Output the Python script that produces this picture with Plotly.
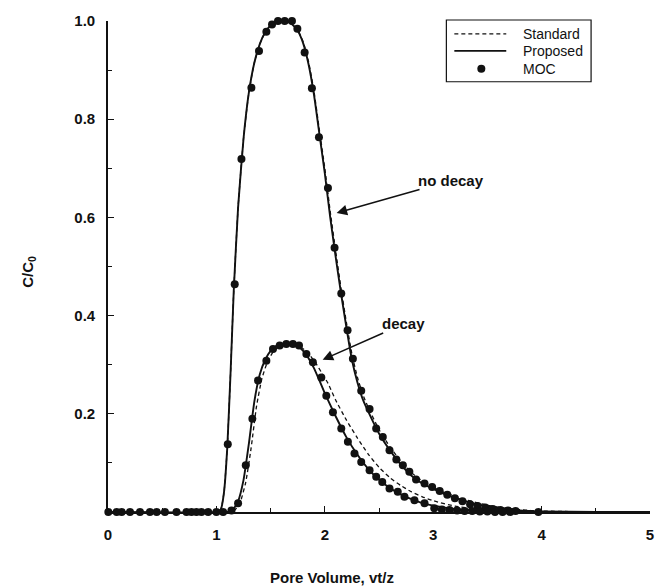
import plotly.graph_objects as go

# ---- Analytical curves (C/C0 vs pore volume) ----
# no decay, proposed solution
nd_prop_x = [0, 1.0, 1.04, 1.07, 1.1, 1.13, 1.16, 1.2, 1.25, 1.3, 1.35, 1.4, 1.45, 1.5, 1.55,
             1.6, 1.65, 1.7, 1.75, 1.8, 1.85, 1.9, 1.95, 2.0, 2.05, 2.1, 2.15, 2.2, 2.25, 2.3,
             2.35, 2.4, 2.5, 2.6, 2.7, 2.8, 2.9, 3.0, 3.1, 3.2, 3.3, 3.4, 3.5, 3.6, 3.7, 3.8,
             3.9, 4.0, 4.5, 5.0]
nd_prop_y = [0, 0, 0.005, 0.04, 0.13, 0.28, 0.45, 0.62, 0.76, 0.855, 0.915, 0.953, 0.977, 0.991, 0.998,
             1.0, 0.999, 0.993, 0.98, 0.955, 0.912, 0.85, 0.77, 0.69, 0.6, 0.52, 0.445, 0.375, 0.31, 0.265,
             0.23, 0.205, 0.16, 0.126, 0.097, 0.074, 0.058, 0.047, 0.037, 0.029, 0.022, 0.016, 0.012, 0.008, 0.005, 0.003,
             0.002, 0.001, 0, 0]

# no decay, standard solution
nd_std_x = [0, 1.0, 1.04, 1.07, 1.1, 1.13, 1.16, 1.2, 1.25, 1.3, 1.35, 1.4, 1.45, 1.5, 1.55,
            1.6, 1.65, 1.7, 1.75, 1.8, 1.85, 1.9, 1.95, 2.0, 2.05, 2.1, 2.15, 2.2, 2.25, 2.3,
            2.35, 2.4, 2.5, 2.6, 2.7, 2.8, 2.9, 3.0, 3.1, 3.2, 3.3, 3.4, 3.5, 3.6, 3.7, 3.8,
            3.9, 4.0, 4.5, 5.0]
nd_std_y = [0, 0, 0.005, 0.04, 0.13, 0.28, 0.45, 0.62, 0.76, 0.855, 0.915, 0.953, 0.977, 0.991, 0.998,
            1.0, 0.999, 0.994, 0.982, 0.958, 0.917, 0.857, 0.778, 0.7, 0.612, 0.532, 0.455, 0.385, 0.322, 0.275,
            0.24, 0.213, 0.168, 0.133, 0.104, 0.08, 0.063, 0.05, 0.04, 0.032, 0.025, 0.019, 0.014, 0.01, 0.007, 0.005,
            0.003, 0.002, 0, 0]

# decay, proposed solution
d_prop_x = [0, 1.1, 1.15, 1.2, 1.25, 1.3, 1.35, 1.4, 1.45, 1.5, 1.55, 1.6, 1.65, 1.7, 1.75, 1.8,
            1.85, 1.9, 1.95, 2.0, 2.1, 2.2, 2.3, 2.4, 2.5, 2.6, 2.7, 2.8, 2.9, 3.0, 3.2, 3.4,
            3.6, 3.8, 4.0, 5.0]
d_prop_y = [0, 0, 0.004, 0.022, 0.065, 0.14, 0.225, 0.28, 0.31, 0.328, 0.338, 0.342, 0.343, 0.342, 0.338, 0.328,
            0.313, 0.293, 0.268, 0.242, 0.195, 0.152, 0.117, 0.088, 0.066, 0.049, 0.036, 0.026, 0.018, 0.013, 0.006, 0.003,
            0.001, 0, 0, 0]

# decay, standard solution
d_std_x = [0, 1.12, 1.17, 1.22, 1.27, 1.32, 1.37, 1.42, 1.47, 1.52, 1.57, 1.62, 1.67, 1.72, 1.77, 1.82,
           1.87, 1.92, 1.97, 2.03, 2.1, 2.2, 2.3, 2.4, 2.5, 2.6, 2.7, 2.8, 2.9, 3.0, 3.2, 3.4,
           3.6, 3.8, 4.0, 5.0]
d_std_y = [0, 0, 0.004, 0.02, 0.06, 0.13, 0.215, 0.272, 0.305, 0.325, 0.336, 0.341, 0.342, 0.341, 0.337, 0.329,
           0.317, 0.302, 0.284, 0.262, 0.228, 0.187, 0.151, 0.118, 0.091, 0.07, 0.054, 0.041, 0.031, 0.023, 0.012, 0.006,
           0.003, 0.001, 0, 0]

# ---- Method of characteristics (MOC) results ----
moc_nd_x = [0.003, 0.126, 0.295, 0.449, 0.632, 0.77, 0.862, 1.0, 1.105, 1.169, 1.231, 1.323, 1.393, 1.461,
            1.513, 1.568, 1.63, 1.697, 1.747, 1.814, 1.881, 1.946, 2.029, 2.09, 2.152, 2.21, 2.259, 2.336,
            2.413, 2.474, 2.535, 2.597, 2.66, 2.72, 2.78, 2.842, 2.92, 2.99, 3.06, 3.13, 3.2, 3.27, 3.34,
            3.41, 3.48, 3.55, 3.62, 3.69, 3.76, 3.97]
moc_nd_y = [0, 0, 0, 0, 0, 0, 0, 0, 0.138, 0.464, 0.719, 0.864, 0.939, 0.978,
            0.993, 1.0, 1.0, 1.0, 0.984, 0.936, 0.863, 0.763, 0.66, 0.538, 0.445, 0.37, 0.312, 0.247,
            0.21, 0.17, 0.153, 0.126, 0.107, 0.095, 0.082, 0.066, 0.058, 0.051, 0.043, 0.035, 0.028, 0.022, 0.016,
            0.012, 0.009, 0.006, 0.004, 0.003, 0.002, 0]

moc_d_x = [0.08, 0.203, 0.387, 0.525, 0.724, 0.816, 0.924, 1.062, 1.139, 1.2, 1.271, 1.332, 1.384, 1.461,
           1.522, 1.584, 1.645, 1.706, 1.762, 1.83, 1.89, 1.968, 2.014, 2.075, 2.152, 2.213, 2.274, 2.336,
           2.413, 2.474, 2.53, 2.597, 2.673, 2.735, 2.827, 2.92, 3.01, 3.08, 3.15, 3.22, 3.29, 3.36, 3.43,
           3.5, 3.57, 3.64, 3.71]
moc_d_y = [0, 0, 0, 0, 0, 0, 0, 0, 0.003, 0.018, 0.095, 0.19, 0.268, 0.308,
           0.332, 0.339, 0.342, 0.342, 0.339, 0.322, 0.305, 0.274, 0.237, 0.203, 0.17, 0.143, 0.119, 0.102,
           0.085, 0.072, 0.061, 0.048, 0.041, 0.031, 0.024, 0.018, 0.0075, 0.005, 0.004, 0.003, 0.002, 0.002, 0.001,
           0.001, 0, 0, 0]

x_ticks = [0, 1, 2, 3, 4, 5]
y_ticks = [0.2, 0.4, 0.6, 0.8, 1.0]
legend_labels = ["Standard", "Proposed", "MOC"]

FONT = "Liberation Sans"
BLACK = "#111111"

fig = go.Figure()

dash_style = dict(color=BLACK, width=1.3, dash="4px,3px", shape="spline", smoothing=0.5)
solid_style = dict(color=BLACK, width=1.9, shape="spline", smoothing=0.5)
dot_style = dict(color=BLACK, size=8)

fig.add_trace(go.Scatter(x=nd_std_x, y=nd_std_y, mode="lines", line=dash_style, name="Standard"))
fig.add_trace(go.Scatter(x=d_std_x, y=d_std_y, mode="lines", line=dash_style, name="Standard"))
fig.add_trace(go.Scatter(x=nd_prop_x, y=nd_prop_y, mode="lines", line=solid_style, name="Proposed"))
fig.add_trace(go.Scatter(x=d_prop_x, y=d_prop_y, mode="lines", line=solid_style, name="Proposed"))
fig.add_trace(go.Scatter(x=moc_nd_x, y=moc_nd_y, mode="markers", cliponaxis=False,
                         marker=dot_style, name="MOC"))
fig.add_trace(go.Scatter(x=moc_d_x, y=moc_d_y, mode="markers", cliponaxis=False,
                         marker=dot_style, name="MOC"))

bold = dict(family=FONT, size=15, color=BLACK, weight="bold")

# curve labels with arrows pointing at the curves
fig.add_annotation(x=2.109, y=0.609, ax=3.168, ay=0.675, xref="x", yref="y", axref="x", ayref="y",
                   text="no decay", font=bold, showarrow=True, arrowhead=2, arrowsize=1.4,
                   arrowwidth=1.5, arrowcolor=BLACK, borderpad=0)
fig.add_annotation(x=1.98, y=0.31, ax=2.726, ay=0.383, xref="x", yref="y", axref="x", ayref="y",
                   text="decay", font=bold, showarrow=True, arrowhead=2, arrowsize=1.4,
                   arrowwidth=1.5, arrowcolor=BLACK, borderpad=0)

# axis titles
fig.add_annotation(xref="paper", yref="paper", x=-0.168, y=0.49, text="C/C<sub>0</sub>",
                   textangle=-90, showarrow=False, font=bold)
fig.add_annotation(xref="paper", yref="paper", x=0.413, y=-0.154, text="Pore Volume, vt/z",
                   showarrow=False, font=bold)

# legend box (paper coordinates)
lx0, lx1, ly0, ly1 = 0.6243, 0.8913, 0.8763, 1.002
row_y = [0.9736, 0.9391, 0.9026]
sx0, sx1, sdot, tx = 0.639, 0.7348, 0.6888, 0.7624
fig.add_shape(type="rect", xref="paper", yref="paper", x0=lx0, x1=lx1, y0=ly0, y1=ly1,
              line=dict(color=BLACK, width=1.2), fillcolor="white", layer="above")
fig.add_shape(type="line", xref="paper", yref="paper", x0=sx0, x1=sx1, y0=row_y[0], y1=row_y[0],
              line=dict(color=BLACK, width=1.3, dash="4px,3px"), layer="above")
fig.add_shape(type="line", xref="paper", yref="paper", x0=sx0, x1=sx1, y0=row_y[1], y1=row_y[1],
              line=dict(color=BLACK, width=1.9), layer="above")
fig.add_shape(type="circle", xref="paper", yref="paper",
              x0=sdot - 0.0074, x1=sdot + 0.0074, y0=row_y[2] - 0.0081, y1=row_y[2] + 0.0081,
              line=dict(color=BLACK, width=0), fillcolor=BLACK, layer="above")
for label, ry in zip(legend_labels, row_y):
    fig.add_annotation(xref="paper", yref="paper", x=tx, y=ry, xanchor="left", yanchor="middle",
                       text=label, showarrow=False,
                       font=dict(family=FONT, size=14, color=BLACK))

axis_common = dict(showline=True, linecolor=BLACK, linewidth=1.6, showgrid=False, zeroline=False,
                   ticks="inside", ticklen=6, tickwidth=1.2, tickcolor=BLACK,
                   tickfont=bold, ticklabelstandoff=8)

fig.update_xaxes(range=[0, 5], tickvals=x_ticks, ticktext=[str(v) for v in x_ticks],
                 minor=dict(dtick=0.5, ticks="inside", ticklen=4, tickcolor=BLACK, tickwidth=1),
                 **axis_common)
fig.update_yaxes(range=[0, 1.0], tickvals=y_ticks, ticktext=[f"{v:.1f}" for v in y_ticks],
                 minor=dict(dtick=0.1, ticks="inside", ticklen=4, tickcolor=BLACK, tickwidth=1),
                 **axis_common)

fig.update_layout(
    width=666, height=588,
    margin=dict(l=108, r=15, t=19, b=76),
    paper_bgcolor="white", plot_bgcolor="white",
    font=dict(family=FONT, color=BLACK),
    showlegend=False,
)

fig.write_html("out.html")
